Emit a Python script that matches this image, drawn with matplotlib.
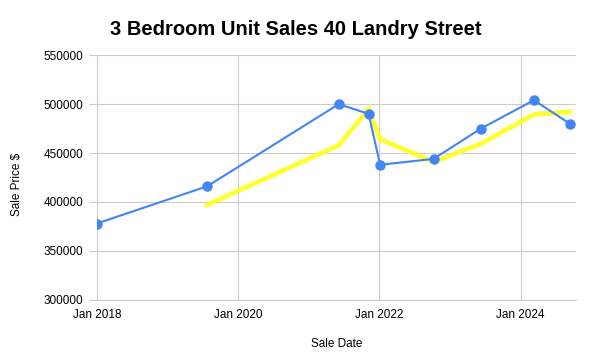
import pandas as pd
import numpy as np
import matplotlib.pyplot as plt
import matplotlib.dates as mdates

# --- data ---
sale_dates = ["2018-01-01", "2019-07-25", "2021-06-05", "2021-11-06", "2022-01-05",
              "2022-10-08", "2023-06-10", "2024-03-10", "2024-09-12"]
sale_prices = [378000, 416000, 500000, 490000, 438000, 444000, 475000, 504000, 480000]
y_ticks = [300000, 350000, 400000, 450000, 500000, 550000]
x_tick_dates = ["2018-01-01", "2020-01-01", "2022-01-01", "2024-01-01"]

plt.rcParams['font.family'] = ['Liberation Sans', 'DejaVu Sans']

df = pd.DataFrame({"date": pd.to_datetime(sale_dates), "price": sale_prices})
# trendline: 2-period moving average
df["trend"] = df["price"].rolling(2).mean()

fig = plt.figure(figsize=(5.91, 3.63), dpi=100)
ax = fig.add_axes([0.164, 0.174, 0.811, 0.674])

grid_c = "#cccccc"
ax.plot(df["date"], df["trend"], color="#ffff22", lw=3.5, alpha=0.9,
        solid_joinstyle="miter", zorder=2)
ax.plot(df["date"], df["price"], color="#4285f4", lw=1.5, marker="o",
        markersize=6.5, zorder=3)

ax.set_xlim(pd.Timestamp("2018-01-01"), pd.Timestamp("2024-10-15"))
ax.set_ylim(y_ticks[0], y_ticks[-1])
ax.set_yticks(y_ticks)
ax.set_yticklabels([str(v) for v in y_ticks])
ax.set_xticks(pd.to_datetime(x_tick_dates))
ax.xaxis.set_major_formatter(mdates.DateFormatter("Jan %Y"))

ax.grid(True, color=grid_c, lw=0.8)
ax.set_axisbelow(True)
for s in ["top", "right"]:
    ax.spines[s].set_visible(False)
ax.spines["left"].set_color(grid_c)
ax.spines["bottom"].set_color(grid_c)
ax.tick_params(axis="y", length=5.8, width=0.8, color=grid_c, labelsize=8.5, pad=4)
ax.tick_params(axis="x", length=0, labelsize=8.5, pad=6.5)

ax.set_xlabel("Sale Date", fontsize=8.5)
ax.set_ylabel("Sale Price $", fontsize=8.5)
ax.xaxis.set_label_coords(0.5, -0.155)
ax.yaxis.set_label_coords(-0.1545, 0.47)

fig.text(0.50, 0.92, "3 Bedroom Unit Sales 40 Landry Street", ha="center", va="center",
         fontsize=14.5, fontweight="bold")

plt.savefig("out.png", dpi=100)
